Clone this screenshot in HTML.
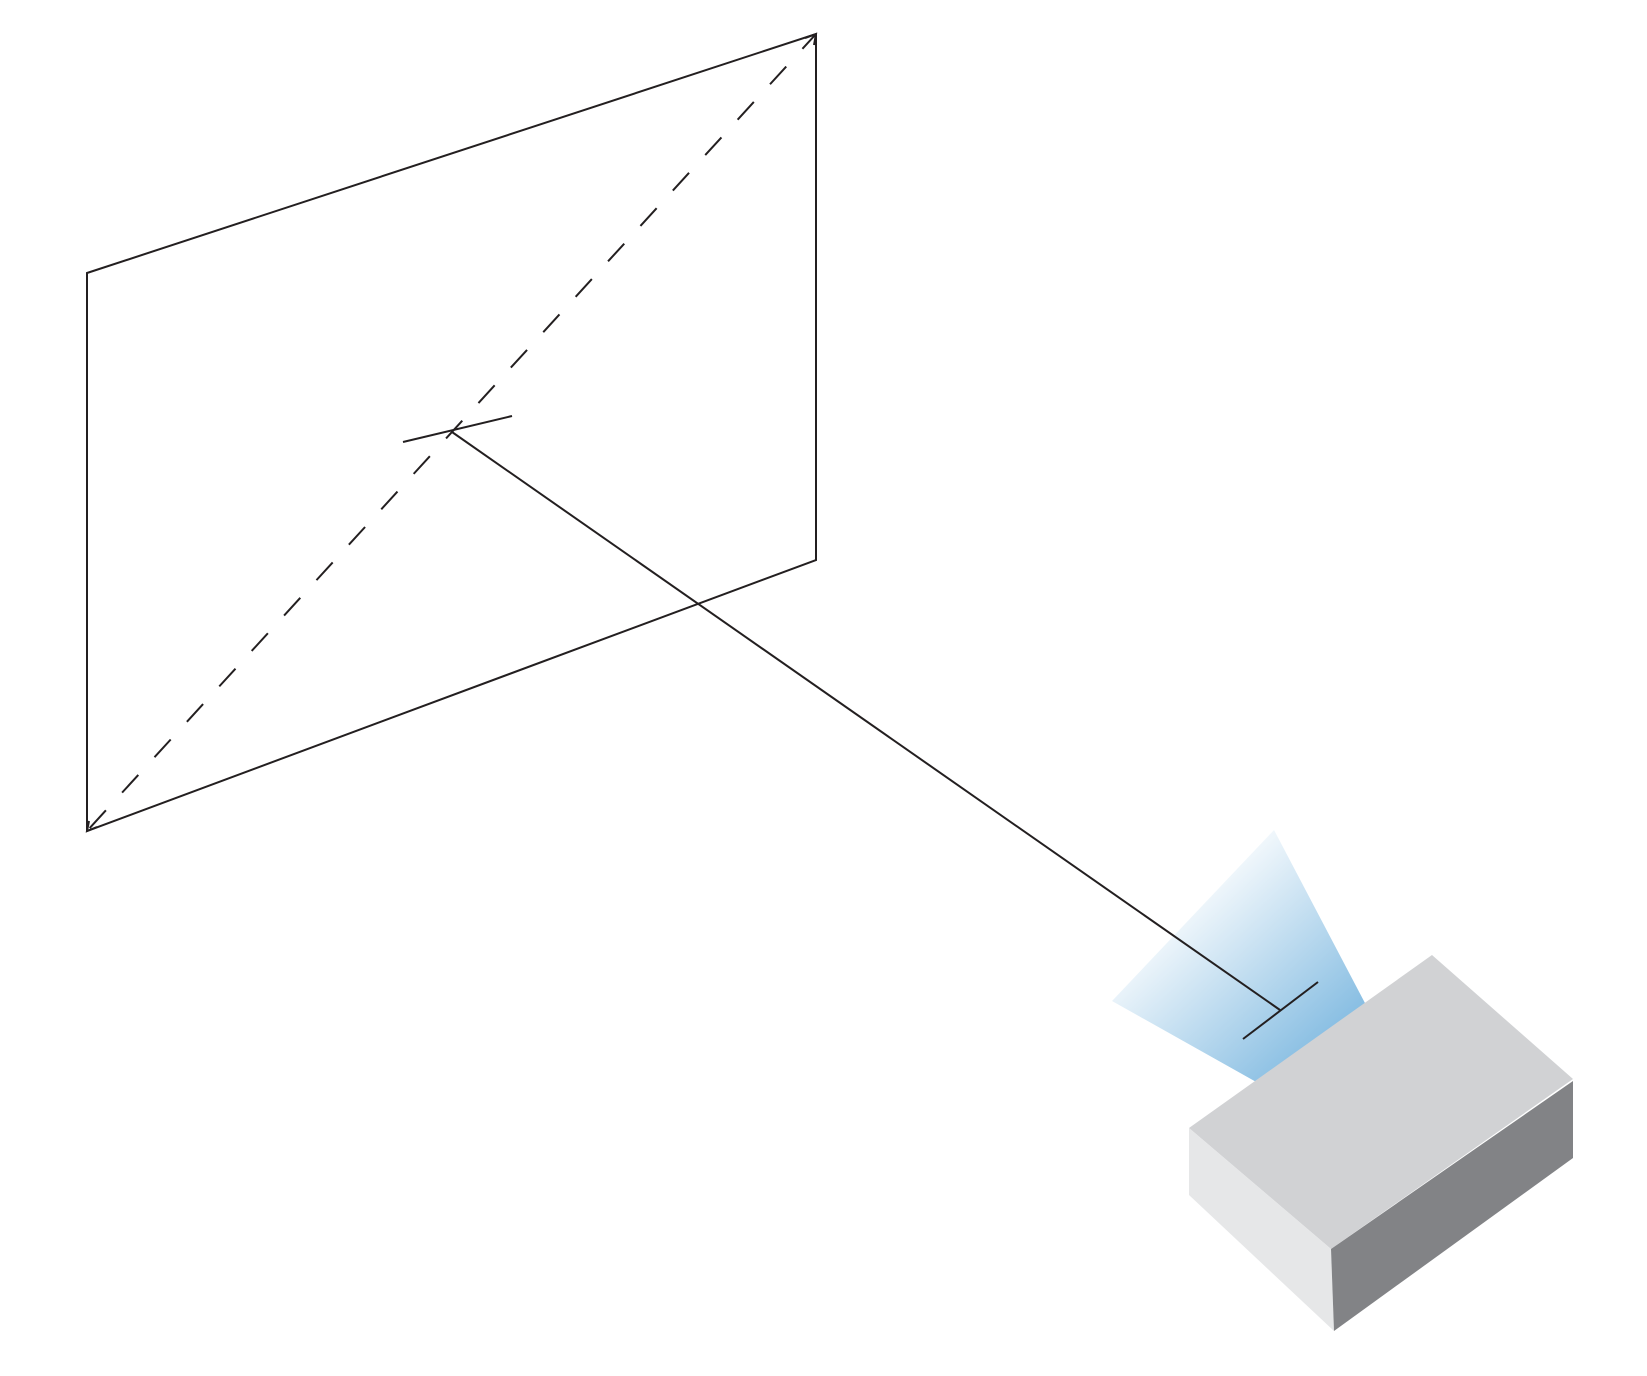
<!DOCTYPE html>
<html><head><meta charset="utf-8"><style>html,body{margin:0;padding:0;background:#fff}</style></head>
<body>
<svg width="1647" height="1371" viewBox="0 0 1647 1371" xmlns="http://www.w3.org/2000/svg">
<defs>
<linearGradient id="beam" gradientUnits="userSpaceOnUse" x1="1333" y1="1053" x2="1183" y2="893">
<stop offset="0" stop-color="#86bde2"/>
<stop offset="1" stop-color="#ffffff"/>
</linearGradient>
</defs>
<g transform="translate(-7,-7)">
<polygon points="1281,837 1373,1012 1265,1090 1119,1008" fill="url(#beam)" transform="translate(0,0)"/>
</g>
<g fill="none" stroke="#231f20" stroke-width="2">
<polygon points="87,273 816,34 816,560 87,831"/>
<line x1="87" y1="831" x2="816" y2="34" stroke-dasharray="24,24" stroke-dashoffset="-4"/>
<polyline points="805,38 816,34 814,45"/>
<polyline points="89,821 87,831 97,827"/>
<line x1="403" y1="442" x2="512" y2="416"/>
<line x1="452" y1="432" x2="1280" y2="1010"/>
<line x1="1243" y1="1039" x2="1318" y2="982"/>
</g>
<g transform="translate(-7,-7)">
<polygon points="1439,962 1580,1086 1338,1256 1196,1135" fill="#d1d2d4"/>
<polygon points="1196,1135 1338,1256 1341,1338 1196,1202" fill="#e6e7e8"/>
<polygon points="1338,1256 1580,1088 1580,1165 1341,1338" fill="#828386"/>
</g>
</svg>
</body></html>
